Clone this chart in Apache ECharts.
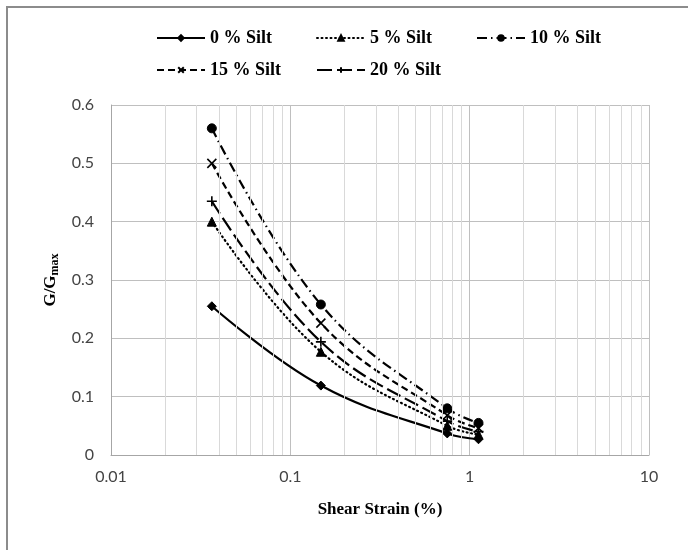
<!DOCTYPE html>
<html>
<head>
<meta charset="utf-8">
<script src="https://cdn.jsdelivr.net/npm/echarts@6/dist/echarts.min.js"></script>
<style>
  html, body { margin: 0; padding: 0; background: #fff; }
  #chart { width: 688px; height: 550px; }
</style>
</head>
<body>
<div id="chart"></div>
<script>
// shear strain (%) of the four test points
const strain = [0.0365, 0.148, 0.75, 1.12]
const silt0 = [0.255, 0.119, 0.037, 0.027]
const silt5 = [0.400, 0.177, 0.050, 0.035]
const silt10 = [0.560, 0.258, 0.080, 0.055]
const silt15 = [0.500, 0.226, 0.068, 0.046]
const silt20 = [0.435, 0.194, 0.058, 0.040]
const seriesNames = ['0 % Silt', '5 % Silt', '10 % Silt', '15 % Silt', '20 % Silt']
// minor log grid lines (2..9 in each decade)
const minorTicks = [0.02, 0.03, 0.04, 0.05, 0.06, 0.07, 0.08, 0.09,
  0.2, 0.3, 0.4, 0.5, 0.6, 0.7, 0.8, 0.9,
  2, 3, 4, 5, 6, 7, 8, 9]

const pairs = ys => strain.map((x, i) => [x, ys[i]])

const chart = echarts.init(document.getElementById('chart'))

const base = {
  type: 'line',
  smooth: 0.4,
  symbolSize: 8,
  z: 3,
  itemStyle: { color: '#000', borderColor: '#000', borderWidth: 1 }
}

chart.setOption({
  backgroundColor: '#fff',
  animation: false,
  graphic: [{
    // chart frame, only left and top edges fall inside the picture
    type: 'polyline',
    shape: { points: [[7, 560], [7, 7], [700, 7]] },
    style: { fill: 'none', stroke: '#8c8c8c', lineWidth: 2 },
    silent: true
  }],
  legend: {
    data: seriesNames,
    left: 151,
    top: 22,
    width: 500,
    itemWidth: 48,
    itemHeight: 7,
    itemGap: 10,
    textStyle: {
      fontFamily: 'Liberation Serif',
      fontWeight: 'bold',
      fontSize: 18,
      color: '#000',
      width: 96,
      lineHeight: 22
    }
  },
  grid: { left: 111, right: 39, top: 105, bottom: 95 },
  xAxis: {
    type: 'log',
    logBase: 10,
    min: 0.01,
    max: 10,
    name: 'Shear Strain (%)',
    nameLocation: 'middle',
    nameGap: 46,
    nameTextStyle: { fontFamily: 'Liberation Serif', fontWeight: 'bold', fontSize: 17, color: '#000' },
    axisLine: { lineStyle: { color: '#a6a6a6' } },
    axisTick: { show: false },
    axisLabel: { fontFamily: 'Lato', fontSize: 16, color: '#444', margin: 14 },
    splitLine: { show: true, lineStyle: { color: '#bfbfbf', width: 1 } }
  },
  yAxis: {
    type: 'value',
    min: 0,
    max: 0.6,
    interval: 0.1,
    name: '{a|G/G}{b|max}',
    nameLocation: 'middle',
    nameGap: 47,
    nameTextStyle: {
      rich: {
        a: { fontFamily: 'Liberation Serif', fontWeight: 'bold', fontSize: 17, color: '#000' },
        b: { fontFamily: 'Liberation Serif', fontWeight: 'bold', fontSize: 12, color: '#000', padding: [8, 0, 0, 0] }
      }
    },
    axisLine: { show: true, lineStyle: { color: '#a6a6a6' } },
    axisTick: { show: false },
    axisLabel: { fontFamily: 'Lato', fontSize: 16, color: '#444', margin: 17 },
    splitLine: { lineStyle: { color: '#bfbfbf', width: 1 } }
  },
  series: [
    {
      name: 'grid',
      type: 'line',
      data: [],
      z: 1,
      markLine: {
        silent: true,
        symbol: 'none',
        label: { show: false },
        lineStyle: { color: '#d9d9d9', width: 1, type: 'solid' },
        data: minorTicks.map(v => ({ xAxis: v }))
      }
    },
    Object.assign({}, base, {
      name: seriesNames[0],
      data: pairs(silt0),
      symbol: 'diamond',
      symbolSize: 9,
      lineStyle: { color: '#000', width: 2.2, type: 'solid' }
    }),
    Object.assign({}, base, {
      name: seriesNames[1],
      data: pairs(silt5),
      symbol: 'triangle',
      symbolSize: 9,
      lineStyle: { color: '#000', width: 2.2, type: [1, 3.5], cap: 'round' }
    }),
    Object.assign({}, base, {
      name: seriesNames[2],
      data: pairs(silt10),
      symbol: 'circle',
      symbolSize: 9,
      lineStyle: { color: '#000', width: 2.2, type: [10, 4, 1.5, 4] }
    }),
    Object.assign({}, base, {
      name: seriesNames[3],
      data: pairs(silt15),
      symbol: 'path://M0,0L10,10M10,0L0,10',
      symbolSize: 9,
      itemStyle: { color: '#000', borderColor: '#000', borderWidth: 1.6 },
      lineStyle: { color: '#000', width: 2.2, type: [7, 4] }
    }),
    Object.assign({}, base, {
      name: seriesNames[4],
      data: pairs(silt20),
      symbol: 'path://M5,0L5,10M0,5L10,5',
      symbolSize: 10,
      itemStyle: { color: '#000', borderColor: '#000', borderWidth: 1.6 },
      lineStyle: { color: '#000', width: 2.2, type: [15, 5] }
    })
  ]
})
</script>
</body>
</html>
